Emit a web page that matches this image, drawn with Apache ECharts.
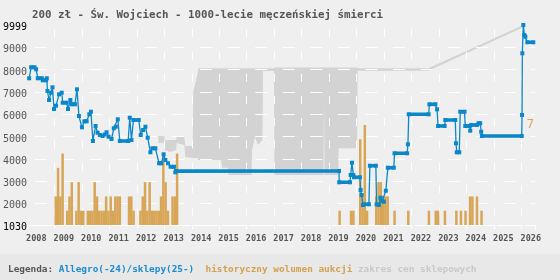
<!DOCTYPE html>
<html>
<head>
<meta charset="utf-8">
<script src="https://cdn.jsdelivr.net/npm/echarts@6/dist/echarts.min.js"></script>
<style>
html, body { margin: 0; padding: 0; background: #efefef; }
#chart { width: 560px; height: 280px; }
</style>
</head>
<body>
<div id="chart"></div>
<script>
// ceny Allegro/sklepy: [rok dziesiętny, cena]
const allegroPrices = [
  [2007.739, 7609], [2007.811, 8102], [2007.935, 8102], [2007.993, 8012], [2008.054, 7609], [2008.200, 7609],
  [2008.236, 7519], [2008.355, 7519], [2008.381, 7609], [2008.406, 7039], [2008.464, 6636], [2008.537, 6963],
  [2008.588, 7205], [2008.646, 6232], [2008.718, 6380], [2008.827, 6891], [2008.925, 6963], [2008.961, 6515],
  [2009.106, 6515], [2009.153, 6232], [2009.240, 6636], [2009.288, 6443], [2009.407, 6443], [2009.480, 7115],
  [2009.552, 5918], [2009.661, 5411], [2009.748, 5680], [2009.832, 5680], [2009.930, 5994], [2009.988, 6111],
  [2010.060, 4797], [2010.158, 5470], [2010.231, 5169], [2010.314, 5066], [2010.412, 5021], [2010.485, 5088],
  [2010.557, 5187], [2010.630, 4990], [2010.738, 4887], [2010.822, 5367], [2010.894, 5438], [2010.967, 5770],
  [2011.040, 4797], [2011.344, 4797], [2011.402, 5842], [2011.464, 4842], [2011.536, 5739], [2011.729, 5739],
  [2011.801, 5066], [2011.888, 5290], [2011.972, 5438], [2012.055, 4945], [2012.153, 4290], [2012.226, 4470],
  [2012.334, 4470], [2012.469, 3797], [2012.552, 3797], [2012.635, 4201], [2012.697, 3945], [2012.795, 3797],
  [2012.889, 3644], [2013.013, 3644], [2013.060, 3393], [2013.096, 3452], [2019.019, 3452], [2019.027, 2945],
  [2019.418, 2945], [2019.443, 3272], [2019.490, 3824], [2019.541, 3272], [2019.563, 3169], [2019.781, 3169],
  [2019.806, 2600], [2019.843, 2375], [2019.890, 1927], [2019.926, 1958], [2020.107, 1958], [2020.144, 3689],
  [2020.361, 3689], [2020.387, 1958], [2020.470, 1927], [2020.532, 2254], [2020.593, 2106], [2020.651, 2075],
  [2020.724, 2568], [2020.797, 3600], [2021.014, 3600], [2021.040, 4245], [2021.500, 4245], [2021.529, 4649],
  [2021.558, 5994], [2022.284, 5994], [2022.309, 6443], [2022.527, 6443], [2022.588, 6218], [2022.625, 5470],
  [2022.864, 5470], [2022.889, 5739], [2023.252, 5739], [2023.278, 4694], [2023.306, 4290], [2023.397, 4290],
  [2023.433, 6111], [2023.589, 6111], [2023.615, 5470], [2023.771, 5470], [2023.796, 5259], [2023.832, 5515],
  [2024.039, 5515], [2024.097, 5591], [2024.159, 5591], [2024.195, 5214], [2024.220, 5021], [2025.671, 5021],
  [2025.682, 5963], [2025.693, 8730], [2025.729, 9999], [2025.766, 9551], [2025.802, 9474], [2025.874, 9223],
  [2026.092, 9223]
];

// zakres cen sklepowych: [rok, min, max]
const shopRange = [
  [2012.443, 4707, 5021], [2012.661, 4707, 5021], [2012.672, 4393, 4842], [2012.878, 4304, 4842],
  [2013.096, 4393, 4842], [2013.107, 4707, 5021], [2013.386, 4618, 5021], [2013.422, 4079, 4573],
  [2013.695, 4035, 4573], [2013.713, 4035, 6994], [2013.876, 4035, 7846], [2013.894, 3945, 8057],
  [2014.728, 3945, 8057], [2014.765, 3601, 8057], [2014.982, 3601, 8057], [2015.000, 3272, 8057],
  [2015.834, 3272, 8057], [2015.853, 4393, 8057], [2015.961, 4976, 8057], [2016.070, 4618, 8057],
  [2016.234, 4842, 8057], [2016.252, 7936, 8057], [2016.651, 7936, 8057], [2016.669, 3272, 8093],
  [2018.457, 3272, 8093], [2018.475, 6815, 8093], [2018.493, 3272, 8093], [2018.990, 3272, 8093],
  [2019.008, 4470, 8093], [2019.679, 4470, 8093], [2019.697, 7950, 8057], [2022.273, 7950, 8057],
  [2025.671, 9864, 9968]
];

// wolumen aukcji w miesiącu
const volumeMonths = [
  '2008-09', '2008-10', '2008-11', '2008-12', '2009-02', '2009-03', '2009-04', '2009-06', '2009-07', '2009-08',
  '2009-09', '2009-11', '2009-12', '2010-01', '2010-02', '2010-03', '2010-04', '2010-05', '2010-06', '2010-07',
  '2010-08', '2010-09', '2010-10', '2010-11', '2010-12', '2011-01', '2011-05', '2011-06', '2011-07', '2011-10',
  '2011-11', '2011-12', '2012-01', '2012-02', '2012-03', '2012-04', '2012-05', '2012-06', '2012-07', '2012-08',
  '2012-09', '2012-10', '2012-12', '2013-01', '2013-02',
  '2019-01', '2019-06', '2019-07', '2019-10', '2019-11', '2019-12', '2020-01', '2020-05', '2020-06', '2020-07',
  '2020-08', '2020-09', '2020-10', '2021-01', '2021-07', '2022-04', '2022-07', '2022-08', '2022-11', '2023-04',
  '2023-06', '2023-08', '2023-10', '2023-11', '2024-01', '2024-03'
];
const volumeCounts = [
  2, 4, 2, 5, 1, 2, 3, 1, 3, 1,
  1, 1, 1, 1, 3, 2, 1, 1, 1, 2,
  1, 2, 1, 2, 2, 2, 2, 2, 1, 1,
  2, 3, 1, 3, 1, 1, 1, 1, 2, 5,
  3, 1, 2, 2, 5,
  1, 1, 1, 6, 2, 7, 1, 2, 3, 3,
  2, 2, 2, 1, 1, 1, 1, 1, 1, 1,
  1, 1, 2, 2, 2, 1
];

const yearLabels = [2008, 2009, 2010, 2011, 2012, 2013, 2014, 2015, 2016, 2017, 2018, 2019, 2020, 2021, 2022, 2023, 2024, 2025, 2026];
const priceLabels = [1030, 2000, 3000, 4000, 5000, 6000, 7000, 8000, 9000, 9999];
const volumeLabels = [7];

const BLUE = '#0a87c9';
const ORANGE = '#d7a656';
const BAND = '#d3d3d3';
const MONO = '"DejaVu Sans Mono", monospace';

const monthCenter = s => {
  const [y, m] = s.split('-').map(Number);
  return y + (m - 0.5) / 12;
};
const volumeData = volumeMonths.map((m, i) => [monthCenter(m), volumeCounts[i]]);

// pogrubione odcinki tam, gdzie cena stoi w miejscu
const flatRuns = [];
for (let i = 0; i < allegroPrices.length - 1; i++) {
  if (allegroPrices[i][1] === allegroPrices[i + 1][1]) {
    flatRuns.push(allegroPrices[i], allegroPrices[i + 1], [allegroPrices[i][0], '-']);
  }
}

const chart = echarts.init(document.getElementById('chart'));
const option = {
  backgroundColor: '#efefef',
  animation: false,
  title: [{
    text: '200 zł - Św. Wojciech - 1000-lecie męczeńskiej śmierci',
    left: 27,
    top: 5,
    textStyle: { fontFamily: MONO, fontSize: 10.8, fontWeight: 'bold', color: '#555' },
  }, {
    text: '{a|Legenda:} {b|Allegro(-24)/sklepy(25-)}  {c|historyczny wolumen aukcji} {d|zakres cen sklepowych}',
    left: 3,
    top: 260,
    textStyle: {
      fontFamily: MONO,
      fontSize: 9.4,
      rich: {
        a: { color: '#555', fontFamily: MONO, fontSize: 9.4 },
        b: { color: '#1a8bd0', fontFamily: MONO, fontSize: 9.4 },
        c: { color: '#d4a052', fontFamily: MONO, fontSize: 9.4 },
        d: { color: '#c9c9c9', fontFamily: MONO, fontSize: 9.4 },
      },
    },
  }],
  graphic: [{
    type: 'rect',
    shape: { x: 0, y: 254, width: 560, height: 26 },
    style: { fill: '#e8e8e8' },
    z: -10,
    silent: true,
  }],
  grid: { left: 25.24, right: 25, top: 25, bottom: 55 },
  xAxis: {
    type: 'value',
    min: 2007.664,   // siatka co rok, przesunięta o ~8 mies. od etykiet
    max: 2026.154,
    interval: 1,
    z: 3,
    axisLine: { show: true, lineStyle: { color: '#fff', width: 1, type: [23, 4.57], dashOffset: 25.57 } },
    axisTick: { show: true, length: 4, lineStyle: { color: '#fff' } },
    axisLabel: {
      customValues: yearLabels,
      formatter: v => String(Math.round(v)),
      fontFamily: MONO,
      fontSize: 8.5,
      fontWeight: 'bold',
      color: '#555',
      margin: 9,
    },
    splitLine: {
      show: true,
      showMinLine: false,
      showMaxLine: false,
      lineStyle: { color: '#fff', width: 1, type: [8, 14.3], dashOffset: 18.3 },
    },
  },
  yAxis: [{
    type: 'value',
    min: 1030,
    max: 9999,
    splitNumber: 9,
    z: 3,
    axisLine: { show: false },
    axisTick: { show: false },
    axisLabel: {
      customValues: priceLabels,
      formatter: v => (v === 1030 || v === 9999) ? '{k|' + v + '}' : String(v),
      fontFamily: MONO,
      fontSize: 10,
      color: '#555',
      margin: 0,
      padding: [5, 0, 0, 0],
      rich: { k: { color: '#000', fontFamily: MONO, fontSize: 10 } },
    },
    splitLine: {
      show: true,
      showMinLine: false,
      showMaxLine: false,
      lineStyle: { color: '#fff', width: 1, type: [12, 15.57], dashOffset: 20 },
    },
  }, {
    type: 'value',
    min: 0,
    max: 14,
    position: 'right',
    axisLine: { show: false },
    axisTick: { show: false },
    splitLine: { show: false },
    axisLabel: {
      customValues: volumeLabels,
      inside: true,
      margin: 1,
      padding: [5, 0, 0, 0],
      fontFamily: MONO,
      fontSize: 12,
      color: ORANGE,
    },
  }],
  series: [{
    name: 'zakres cen sklepowych',
    type: 'custom',
    data: [[shopRange[0][0], shopRange[0][1]]],
    renderItem: (params, api) => {
      const upper = shopRange.map(d => api.coord([d[0], d[2]]));
      const lower = shopRange.map(d => api.coord([d[0], d[1]])).reverse();
      return {
        type: 'polygon',
        shape: { points: upper.concat(lower) },
        style: { fill: BAND },
      };
    },
    z: 1,
    silent: true,
  }, {
    name: 'historyczny wolumen aukcji',
    type: 'bar',
    yAxisIndex: 1,
    data: volumeData,
    barWidth: 2.5,
    itemStyle: { color: ORANGE },
    z: 4,
    silent: true,
  }, {
    name: 'odcinki',
    type: 'line',
    data: flatRuns,
    symbol: 'none',
    connectNulls: false,
    lineStyle: { color: BLUE, width: 3.5 },
    z: 5,
    silent: true,
  }, {
    name: 'Allegro(-24)/sklepy(25-)',
    type: 'line',
    data: allegroPrices,
    symbol: 'rect',
    symbolSize: 4,
    clip: false,
    lineStyle: { color: BLUE, width: 1.3 },
    itemStyle: { color: BLUE },
    z: 6,
    silent: true,
  }],
};
chart.setOption(option);
</script>
</body>
</html>
